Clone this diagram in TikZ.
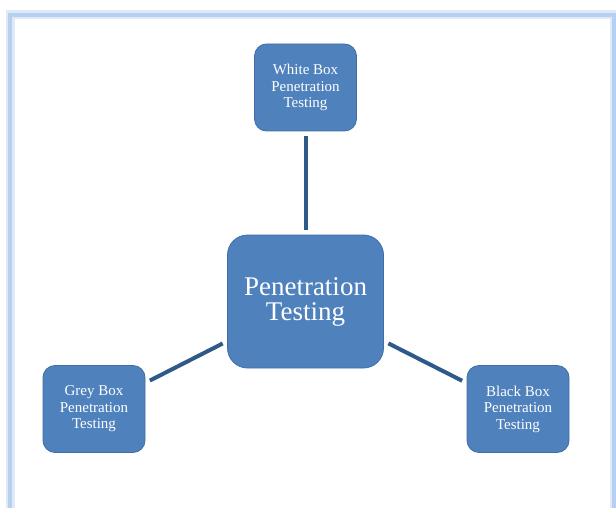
\documentclass[tikz,border=0pt]{standalone}
\usepackage{fontspec}
\setmainfont{Liberation Serif}
\usepackage{tikz}
\usetikzlibrary{positioning}
\definecolor{colorCaja}{HTML}{4F81BD}
\definecolor{colorBorde}{HTML}{3F6FA6}
\definecolor{colorLinea}{HTML}{2E5A8A}
\definecolor{colorMarco}{HTML}{B7D0F2}

\begin{document}
\begin{tikzpicture}[
        x=1pt, y=1pt,
        kind/.style={draw=colorBorde, fill=colorCaja, line width=0.8pt, rounded corners=12pt,
            minimum width=102pt, minimum height=87pt, align=center, text=white,
            font=\fontsize{15}{16.5}\selectfont},
        core/.style={kind, rounded corners=20pt, minimum width=156pt, minimum height=133pt,
            font=\fontsize{27}{25}\selectfont},
        link/.style={colorLinea, line width=4pt, shorten <=5pt, shorten >=5pt}
    ]
        \useasboundingbox (0,0) rectangle (616,507);
        \draw[colorMarco!45, line width=9pt] (10,-10) -- (10,492) -- (614,492) -- (614,-10);
        \draw[colorMarco, line width=4pt] (10,-10) -- (10,492) -- (614,492) -- (614,-10);
        \node[core] (pt) at (305.5,205.5) {Penetration\\Testing};
        \node[kind] (white) at (305.5,419.5) {White Box\\Penetration\\Testing};
        \node[kind] (grey) at (94,98) {Grey Box\\Penetration\\Testing};
        \node[kind] (black) at (518,98) {Black Box\\Penetration\\Testing};
        \draw[link] (white)--(pt); \draw[link] (grey)--(pt); \draw[link] (black)--(pt);
    \end{tikzpicture}
\end{document}
